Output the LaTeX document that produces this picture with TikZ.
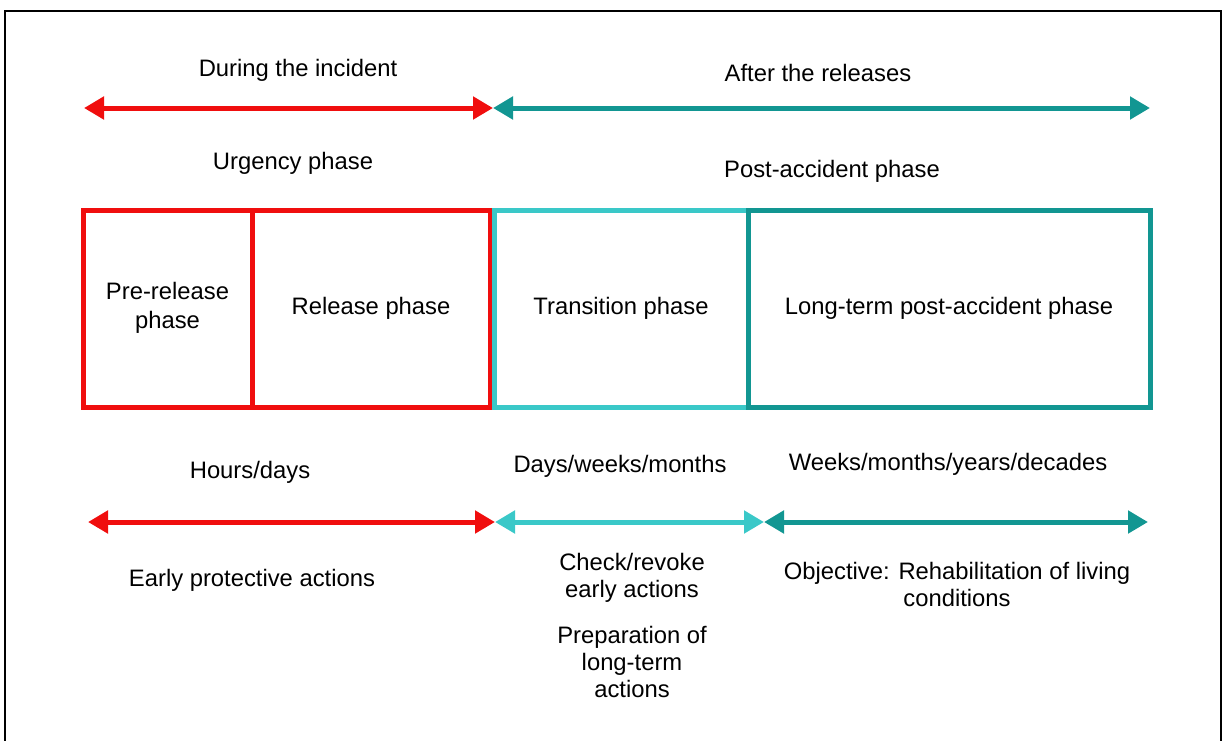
\documentclass[tikz,border=0pt]{standalone}
\usepackage{fontspec}
\setmainfont{Liberation Sans}
\usetikzlibrary{arrows.meta}
\definecolor{cred}{RGB}{240,14,14}
\definecolor{cteal}{RGB}{18,150,146}
\definecolor{clteal}{RGB}{58,200,200}
\begin{document}
\begin{tikzpicture}[x=1pt,y=-1pt,
  lbl/.style={font=\fontsize{23.8}{27}\selectfont, align=center, inner sep=0pt, yshift=-3pt},
  phasebox/.style={draw, line width=5pt, minimum height=197pt, inner sep=0pt,
     font=\fontsize{23.8}{27}\selectfont, align=center},
  span/.style={line width=5pt, {Triangle[length=20pt,width=22pt]}-{Triangle[length=20pt,width=22pt]}}
]
\useasboundingbox (0,0) rectangle (1224,740);
\draw[line width=2pt] (5,741) -- (5,11) -- (1221,11) -- (1221,741);

% top labels
\node[lbl] (during) at (298,67) {During the incident};
\node[lbl] (after) at (818,70) {After the releases};

% top arrows
\coordinate (ta) at (84,108);
\coordinate (tb) at (493,108);
\coordinate (tc) at (1150,108);
\draw[span, cred] (ta) -- (tb);
\draw[span, cteal] (tb) -- (tc);

\node[lbl] (urgency) at (293,160) {Urgency phase};
\node[lbl] (post) at (832,168) {Post-accident phase};

% boxes
\node[phasebox, draw=cred, minimum width=169pt] (pre) at (167.5,308.5) {\raisebox{3pt}{\begin{tabular}{@{}c@{}}Pre-release\\[2pt]phase\end{tabular}}};
\node[phasebox, draw=cred, minimum width=238pt] (rel) at (371,308.5) {\raisebox{4pt}{Release phase}};
\node[phasebox, draw=clteal, minimum width=254pt] (trans) at (621,308.5) {\raisebox{-2pt}{Transition phase}};
\node[phasebox, draw=cteal, minimum width=402pt] (long) at (949,308.5) {\raisebox{-2pt}{Long-term post-accident phase}};

% durations
\node[lbl] (hours) at (250,469) {Hours/days};
\node[lbl] (days) at (620,463) {Days/weeks/months};
\node[lbl] (weeks) at (948,461) {Weeks/months/years/decades};

% bottom arrows
\coordinate (ba) at (88,522);
\coordinate (bb) at (495,522);
\coordinate (bc) at (764,522);
\coordinate (bd) at (1148,522);
\draw[span, cred] (ba) -- (bb);
\draw[span, clteal] (bb) -- (bc);
\draw[span, cteal] (bc) -- (bd);

% actions
\node[lbl] (early) at (252,577) {Early protective actions};
\node[lbl] (check) at (632,575) {Check/revoke\\early actions};
\node[lbl] (prep) at (632,659) {Preparation of\\long-term\\actions};
\node[lbl] (obj) at (957,581) {Objective: Rehabilitation of living\\conditions};
\end{tikzpicture}
\end{document}
